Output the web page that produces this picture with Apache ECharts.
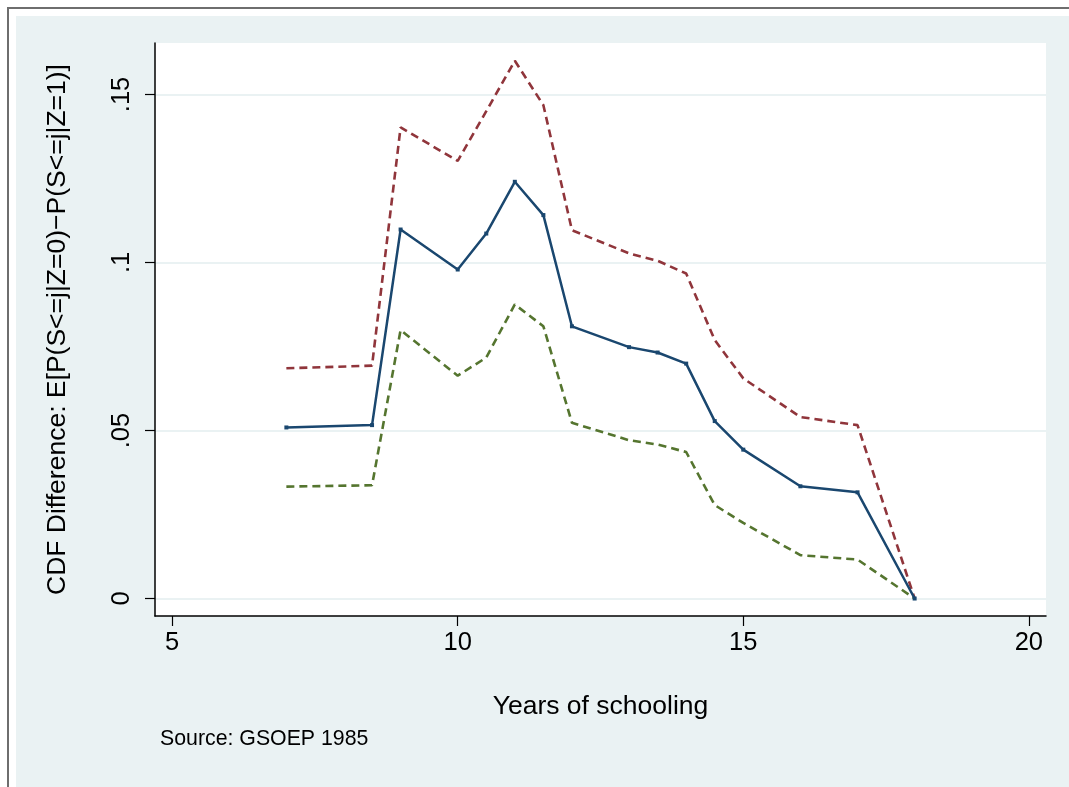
<!DOCTYPE html>
<html>
<head>
<meta charset="utf-8">
<script src="https://cdn.jsdelivr.net/npm/echarts@6/dist/echarts.min.js"></script>
<style>
html, body { margin: 0; padding: 0; background: #ffffff; }
#chart { width: 1069px; height: 787px; }
</style>
</head>
<body>
<div id="chart"></div>
<script>
// Data
const years = [7, 8.5, 9, 10, 10.5, 11, 11.5, 12, 13, 13.5, 14, 14.5, 15, 16, 17, 18];
const estimate = [0.0509, 0.0516, 0.1098, 0.0979, 0.1086, 0.1240, 0.1141, 0.0810, 0.0748, 0.0732, 0.0699, 0.0528, 0.0443, 0.0334, 0.0316, 0.0];
const upperBand = [0.0685, 0.0693, 0.1402, 0.1302, 0.1450, 0.1600, 0.1468, 0.1096, 0.1027, 0.1005, 0.0967, 0.0769, 0.0655, 0.0540, 0.0516, 0.0];
const lowerBand = [0.0333, 0.0337, 0.0799, 0.0663, 0.0717, 0.0875, 0.0810, 0.0523, 0.0471, 0.0458, 0.0436, 0.0278, 0.0225, 0.0129, 0.0116, 0.0];
const xTicks = [5, 10, 15, 20];
const yTicks = [0, 0.05, 0.1, 0.15];
const yTickLabels = ['0', '.05', '.1', '.15'];
const xTitle = 'Years of schooling';
const yTitle = 'CDF Difference: E[P(S<=j|Z=0)\u2212P(S<=j|Z=1)]';
const note = 'Source: GSOEP 1985';

const FONT = '"Liberation Sans", Arial, Helvetica, sans-serif';
const pairs = (ys) => years.map((x, i) => [x, ys[i]]);

const chart = echarts.init(document.getElementById('chart'), null, { renderer: 'canvas' });
chart.setOption({
  animation: false,
  backgroundColor: '#ffffff',
  textStyle: { fontFamily: FONT },
  graphic: [
    { type: 'rect', z: -100, silent: true,
      shape: { x: 8, y: 8, width: 1200, height: 900 },
      style: { fill: '#ffffff', stroke: '#6e6e6e', lineWidth: 2 } },
    { type: 'rect', z: -99, silent: true,
      shape: { x: 16, y: 16, width: 1200, height: 900 },
      style: { fill: '#eaf2f3' } }
  ],
  title: {
    text: note, left: 160, top: 729, padding: 0,
    textStyle: { fontFamily: FONT, fontSize: 21.3, fontWeight: 'normal', color: '#000' }
  },
  grid: {
    left: 155, top: 43, right: 23, bottom: 171,
    show: true, backgroundColor: '#ffffff', borderWidth: 0,
    containLabel: false
  },
  xAxis: {
    type: 'value', min: 4.7, max: 20.3,
    name: xTitle, nameLocation: 'middle', nameGap: 77,
    nameTextStyle: { fontFamily: FONT, fontSize: 26.5, color: '#000' },
    axisLine: { show: true, onZero: false, lineStyle: { color: '#000', width: 1.5 } },
    axisTick: { show: true, length: 10, customValues: xTicks, lineStyle: { color: '#000', width: 1.2 } },
    axisLabel: { customValues: xTicks, fontFamily: FONT, fontSize: 25.5, color: '#000', margin: 14 },
    splitLine: { show: false }
  },
  yAxis: {
    type: 'value', min: -0.0052, max: 0.1653,
    name: yTitle, nameLocation: 'middle', nameGap: 84, nameRotate: 90,
    nameTextStyle: { fontFamily: FONT, fontSize: 26.5, color: '#000' },
    axisLine: { show: true, onZero: false, lineStyle: { color: '#000', width: 1.5 } },
    axisTick: { show: true, length: 10, customValues: yTicks, lineStyle: { color: '#000', width: 1.2 } },
    axisLabel: {
      customValues: yTicks, rotate: 90, fontFamily: FONT, fontSize: 25.5, color: '#000', margin: 20,
      formatter: (v) => { const i = yTicks.findIndex(t => Math.abs(t - v) < 1e-9); return i >= 0 ? yTickLabels[i] : ''; }
    },
    splitLine: { show: true, lineStyle: { color: '#eaf2f3', width: 2 } }
  },
  series: [
    {
      name: 'upper', type: 'line', data: pairs(upperBand),
      showSymbol: false, symbol: 'none',
      lineStyle: { color: '#90353b', width: 2.6, type: [8, 5] }, z: 3
    },
    {
      name: 'lower', type: 'line', data: pairs(lowerBand),
      showSymbol: false, symbol: 'none',
      lineStyle: { color: '#55752f', width: 2.6, type: [8, 5] }, z: 3
    },
    {
      name: 'estimate', type: 'line', data: pairs(estimate),
      symbol: 'rect', symbolSize: 4, showSymbol: true,
      itemStyle: { color: '#1a476f' },
      lineStyle: { color: '#1a476f', width: 2.5 }, z: 4
    }
  ]
});
</script>
</body>
</html>
